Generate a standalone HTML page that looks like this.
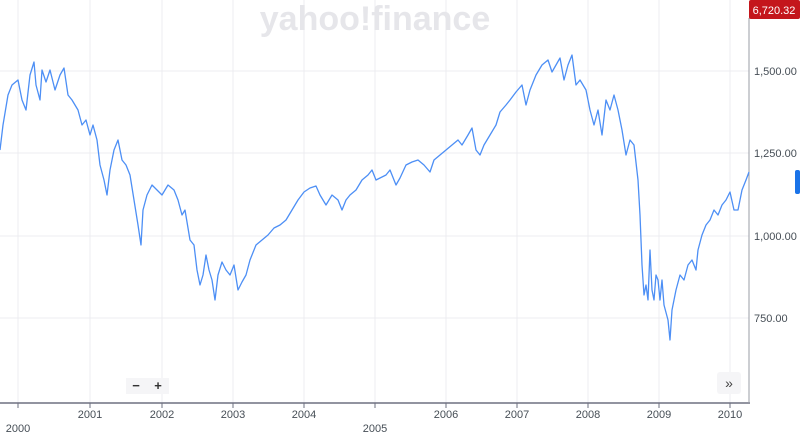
<!DOCTYPE html>
<html><head><meta charset="utf-8"><style>
body{margin:0;background:#fff;width:800px;height:441px;overflow:hidden;font-family:"Liberation Sans",sans-serif}
</style></head><body>
<svg width="800" height="441" xmlns="http://www.w3.org/2000/svg" font-family="Liberation Sans, sans-serif">
<g stroke="#ececf0" stroke-width="1">
<line x1="0" y1="71" x2="749" y2="71"/><line x1="0" y1="153" x2="749" y2="153"/><line x1="0" y1="236" x2="749" y2="236"/><line x1="0" y1="318" x2="749" y2="318"/>
<line x1="18" y1="0" x2="18" y2="403"/><line x1="90" y1="0" x2="90" y2="403"/><line x1="162" y1="0" x2="162" y2="403"/><line x1="233" y1="0" x2="233" y2="403"/><line x1="304" y1="0" x2="304" y2="403"/><line x1="375" y1="0" x2="375" y2="403"/><line x1="446" y1="0" x2="446" y2="403"/><line x1="517" y1="0" x2="517" y2="403"/><line x1="588" y1="0" x2="588" y2="403"/><line x1="659" y1="0" x2="659" y2="403"/><line x1="730" y1="0" x2="730" y2="403"/>
</g>
<text x="375" y="30" font-size="34" font-weight="bold" fill="#e6e6ea" text-anchor="middle">yahoo!finance</text>
<line x1="0" y1="403" x2="750" y2="403" stroke="#6e7080" stroke-width="1.5"/>
<line x1="749" y1="18" x2="749" y2="403" stroke="#9a9ca6" stroke-width="1"/>
<g stroke="#6e7080"><line x1="18" y1="403" x2="18" y2="408"/><line x1="90" y1="403" x2="90" y2="408"/><line x1="162" y1="403" x2="162" y2="408"/><line x1="233" y1="403" x2="233" y2="408"/><line x1="304" y1="403" x2="304" y2="408"/><line x1="375" y1="403" x2="375" y2="408"/><line x1="446" y1="403" x2="446" y2="408"/><line x1="517" y1="403" x2="517" y2="408"/><line x1="588" y1="403" x2="588" y2="408"/><line x1="659" y1="403" x2="659" y2="408"/><line x1="730" y1="403" x2="730" y2="408"/></g>
<g font-size="11" fill="#464e56" text-anchor="middle">
<text x="90" y="418">2001</text><text x="162" y="418">2002</text><text x="233" y="418">2003</text><text x="304" y="418">2004</text><text x="446" y="418">2006</text><text x="517" y="418">2007</text><text x="588" y="418">2008</text><text x="659" y="418">2009</text><text x="730" y="418">2010</text>
<text x="18" y="432">2000</text><text x="375" y="432">2005</text>
</g>
<g font-size="11" fill="#464e56">
<text x="754" y="75">1,500.00</text><text x="754" y="157">1,250.00</text><text x="754" y="240">1,000.00</text><text x="754" y="322">750.00</text>
</g>
<rect x="749" y="0" width="51" height="19" rx="2" fill="#c4161c"/>
<text x="774" y="14" font-size="11" fill="#fff" text-anchor="middle">6,720.32</text>
<rect x="795" y="170" width="5" height="24" rx="2" fill="#1a73e8"/>
<rect x="126" y="378" width="43" height="16" fill="#f5f5f7"/>
<text x="136" y="390" font-size="13" fill="#333" text-anchor="middle" font-weight="bold">−</text>
<text x="158" y="390" font-size="13" fill="#333" text-anchor="middle" font-weight="bold">+</text>
<rect x="717" y="372" width="24" height="22" rx="3" fill="#f5f5f7"/>
<text x="729" y="388" font-size="14" fill="#444" text-anchor="middle">»</text>
<polyline fill="none" stroke="#4d8ff5" stroke-width="1.3" stroke-linejoin="round" points="0,150 3,125 8,95 12,85 18,80 22,100 26,110 30,75 34,62 36,85 40,100 42,70 46,82 50,70 55,90 60,75 64,68 68,95 72,100 78,110 82,125 86,120 90,135 93,125 97,140 100,165 104,180 107,195 110,170 114,150 118,140 122,160 126,165 130,175 134,200 138,225 141,245 143,210 147,195 152,185 157,190 162,195 168,185 174,190 178,200 182,215 185,210 190,240 194,245 197,270 200,285 203,275 206,255 209,270 212,280 215,300 218,275 222,262 226,270 230,275 234,265 238,290 242,282 246,275 250,260 256,245 262,240 268,235 274,228 280,225 286,220 292,210 298,200 304,192 310,188 316,186 320,195 326,205 332,195 338,200 342,210 346,200 350,195 356,190 362,180 368,175 372,170 376,180 380,178 386,175 390,170 396,185 400,178 406,165 412,162 418,160 424,165 430,172 434,160 440,155 446,150 452,145 458,140 462,145 468,135 472,128 476,150 480,155 484,145 490,135 496,125 500,112 506,105 510,100 516,92 522,85 526,105 530,90 536,75 542,65 548,60 552,72 556,65 560,58 564,80 568,65 572,55 576,85 580,80 586,90 590,110 594,125 598,110 602,135 606,100 610,110 614,95 618,110 622,130 626,155 630,140 634,145 638,180 640,215 642,265 644,295 646,285 648,300 650,250 652,290 654,300 656,275 658,280 660,300 662,280 664,305 668,320 670,340 672,310 676,290 680,275 684,280 688,265 692,260 696,270 698,250 702,235 706,225 710,220 714,210 718,215 722,205 726,200 730,192 734,210 738,210 742,190 746,180 749,172"/>
</svg>
</body></html>
